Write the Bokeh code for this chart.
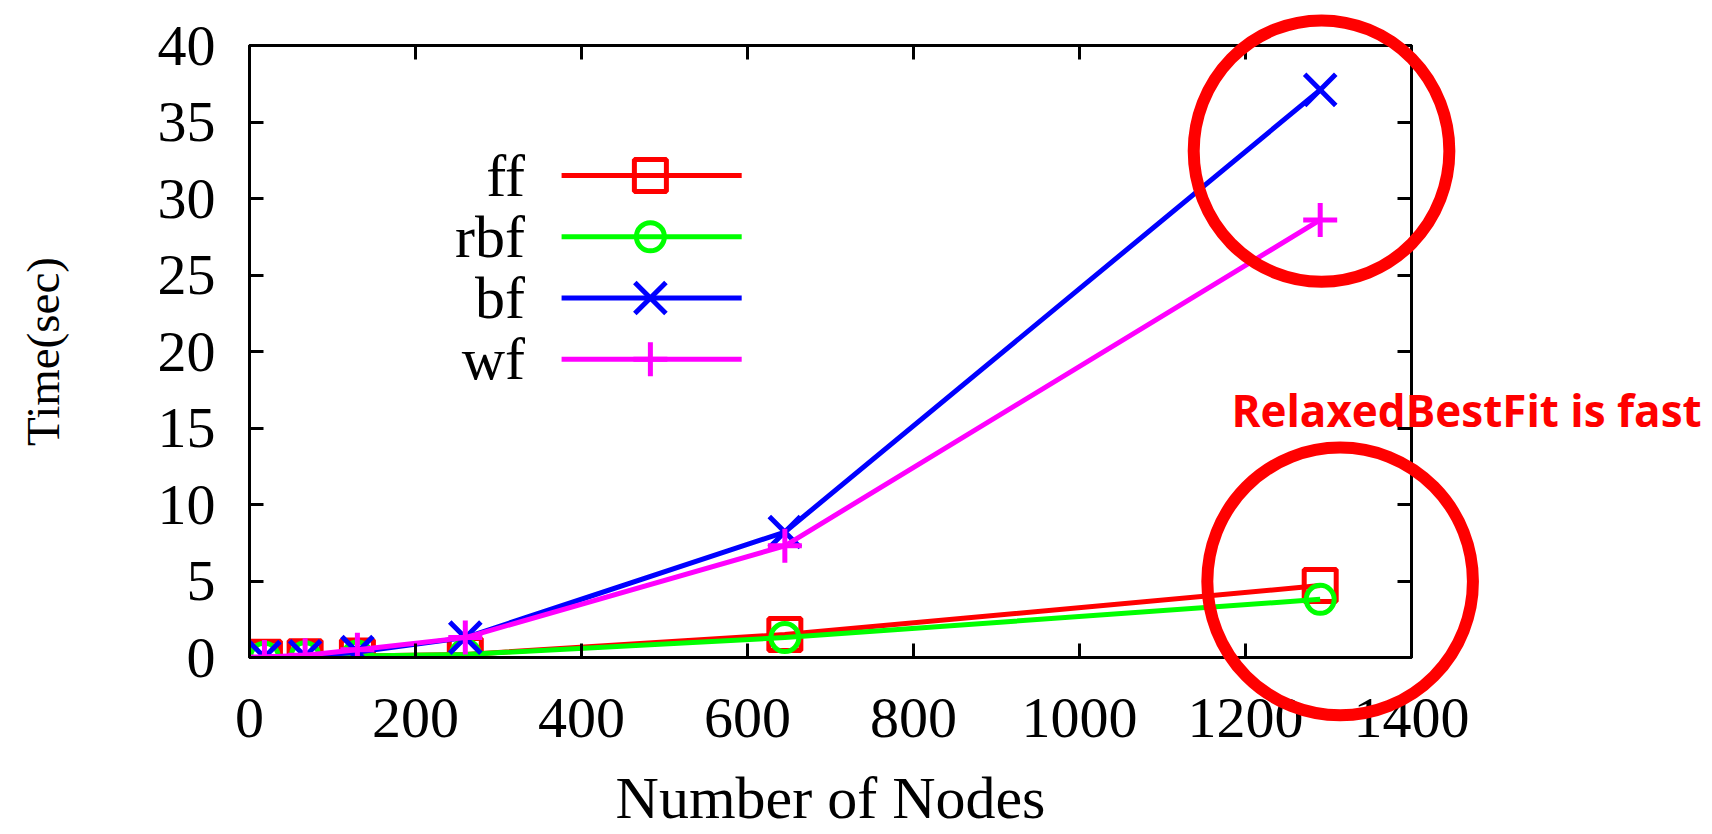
import numpy as np
from bokeh.plotting import figure
from bokeh.models import LinearAxis, FixedTicker, Range1d, Label
from bokeh.core.properties import value
from bokeh.embed import file_html
from bokeh.resources import INLINE

# ---------------- data ----------------
nodes = [18, 67, 130, 260, 645, 1290]
ff = [0.02, 0.05, 0.1, 0.2, 1.5, 4.7]
rbf = [0.02, 0.05, 0.1, 0.2, 1.3, 3.8]
bf = [0.02, 0.08, 0.35, 1.3, 8.2, 37.1]
wf = [0.03, 0.15, 0.5, 1.3, 7.3, 28.6]
series_names = ["ff", "rbf", "bf", "wf"]
x_ticks = [0, 200, 400, 600, 800, 1000, 1200, 1400]
y_ticks = [0, 5, 10, 15, 20, 25, 30, 35, 40]
x_label = "Number of Nodes"
y_label = "Time(sec)"
note_text = "RelaxedBestFit is fast"

# ---------------- styles / layout ----------------
COLORS = ["#ff0000", "#00ff00", "#0000ff", "#ff00ff"]
MARKERS = ["square", "circle", "x", "cross"]
MARKER_SIZES = [32, 28, 44, 34]
LINE_W = 5
SERIF = "Liberation Serif"
W, H = 1712, 834
B_LEFT, B_RIGHT, B_TOP, B_BOTTOM = 249, 301, 45, 177
X0, X1, Y0, Y1 = 0, 1400, 0, 40

p = figure(width=W, height=H, output_backend="svg", toolbar_location=None,
           x_range=Range1d(X0, X1), y_range=Range1d(Y0, Y1),
           min_border_left=B_LEFT, min_border_right=B_RIGHT,
           min_border_top=B_TOP, min_border_bottom=B_BOTTOM,
           background_fill_color="white", border_fill_color="white")
p.grid.visible = False
p.outline_line_color = "black"
p.outline_line_width = 3


def style_axis(ax, ticks, show_labels, label_size, standoff):
    ax.ticker = FixedTicker(ticks=ticks)
    ax.axis_line_color = "black"
    ax.axis_line_width = 3
    ax.major_tick_line_color = "black"
    ax.major_tick_line_width = 3
    ax.major_tick_in = 14
    ax.major_tick_out = 0
    ax.minor_tick_line_color = None
    ax.major_label_text_font = SERIF
    ax.major_label_text_font_size = label_size
    ax.major_label_text_color = "black" if show_labels else None
    ax.major_label_standoff = standoff


style_axis(p.xaxis[0], x_ticks, True, "58px", 41)
style_axis(p.yaxis[0], y_ticks, True, "58px", 34)
p.xaxis[0].axis_label = x_label
p.yaxis[0].axis_label = y_label
for ax, sz, so in ((p.xaxis[0], "60px", 25), (p.yaxis[0], "47px", 86)):
    ax.axis_label_text_font = SERIF
    ax.axis_label_text_font_size = sz
    ax.axis_label_text_font_style = "normal"
    ax.axis_label_text_color = "black"
    ax.axis_label_standoff = so

top_ax = LinearAxis()
style_axis(top_ax, x_ticks, False, "10px", 0)
p.add_layout(top_ax, "above")
right_ax = LinearAxis()
style_axis(right_ax, y_ticks, False, "10px", 0)
p.add_layout(right_ax, "right")

# ---------------- series ----------------
for name, ys, col, mk, ms in zip(series_names, [ff, rbf, bf, wf], COLORS, MARKERS, MARKER_SIZES):
    p.line(nodes, ys, line_color=col, line_width=LINE_W)
    p.scatter(nodes, ys, marker=mk, size=ms, line_color=col, line_width=LINE_W,
              fill_color=None)

# ---------------- legend (gnuplot style: label left, sample right) ----------------
LEG_LABEL_X = 332
LEG_LINE_X0, LEG_LINE_X1 = 376, 593
LEG_MARK_X = 483
LEG_Y0, LEG_DY = 31.5, 4.0
leg_y = [LEG_Y0 - i * LEG_DY for i in range(len(series_names))]
p.text(x=[LEG_LABEL_X] * len(series_names), y=leg_y, text=series_names,
       text_font=value(SERIF), text_font_size="60px", text_align="right",
       text_baseline="middle", text_color="black")
p.segment(x0=[LEG_LINE_X0] * 4, y0=leg_y, x1=[LEG_LINE_X1] * 4, y1=leg_y,
          line_color=COLORS, line_width=LINE_W)
for yy, col, mk, ms in zip(leg_y, COLORS, MARKERS, MARKER_SIZES):
    p.scatter([LEG_MARK_X], [yy], marker=mk, size=ms, line_color=col,
              line_width=LINE_W, fill_color=None)

# ---------------- overlay figure (own root) for annotations that go past the frame ----------------
fw = W - B_LEFT - B_RIGHT
fh = H - B_TOP - B_BOTTOM
ux = (X1 - X0) / fw
uy = (Y1 - Y0) / fh
q = figure(width=W, height=H, output_backend="svg", toolbar_location=None,
           x_range=Range1d(X0 - B_LEFT * ux, X1 + B_RIGHT * ux),
           y_range=Range1d(Y0 - B_BOTTOM * uy, Y1 + B_TOP * uy),
           min_border=0, x_axis_location=None, y_axis_location=None, title=None)
q.grid.visible = False
q.outline_line_color = None
q.background_fill_color = None
q.border_fill_color = None
q.styles = {"position": "absolute", "top": "0px", "left": "0px"}

ELLIPSE_X = [1291.6, 1314.0]
ELLIPSE_Y = [33.1, 4.97]
ELLIPSE_W = [308.0, 320.0]
ELLIPSE_H = [17.1, 17.5]
q.ellipse(x=ELLIPSE_X, y=ELLIPSE_Y, width=ELLIPSE_W, height=ELLIPSE_H,
          fill_color=None, line_color="#ff0000", line_width=12)
q.add_layout(Label(x=1183, y=16.2, text=note_text, text_font="Open Sans",
                   text_font_size="44px", text_font_style="bold", text_color="#ff0000",
                   text_align="left", text_baseline="alphabetic"))

open("out.html", "w").write(file_html([p, q], INLINE))
